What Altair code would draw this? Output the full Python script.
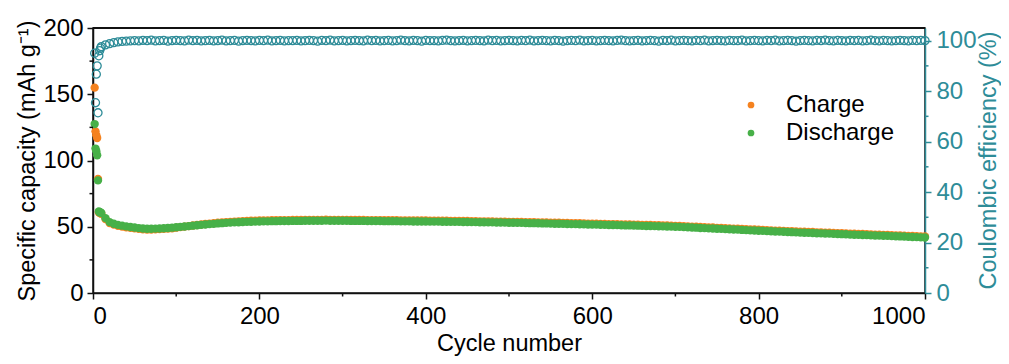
import altair as alt
import pandas as pd

# ---- data ----
early_cycles = [2, 3, 4, 5, 6, 7, 8, 9]
early_charge = [155.0, 122.0, 119.0, 117.0, 86.0, 61.0, 60.5, 60.2]
early_discharge = [127.5, 109.0, 107.0, 104.0, 85.0, 61.5, 61.0, 60.8]
early_ce_cycles = [2, 3, 4, 5, 6, 7, 8, 9]
early_ce = [95.0, 75.4, 86.7, 90.0, 71.4, 94.0, 96.0, 97.0]

cycles = list(range(10, 1001, 5))

charge = [
    59.8, 55.8, 52.8, 51.6, 50.7, 50.1, 49.6, 49.2, 48.8, 48.4, 48.1, 47.9, 47.9, 48.0, 48.2, 48.4, 48.7, 48.9, 49.3,
    49.7, 50.1, 50.5, 50.9, 51.3, 51.7, 52.1, 52.4, 52.7, 53.0, 53.3, 53.5, 53.7, 53.9, 54.1, 54.2, 54.4, 54.5, 54.6, 54.7,
    54.8, 54.8, 54.9, 54.9, 55.0, 55.0, 55.0, 55.1, 55.1, 55.1, 55.2, 55.2, 55.2, 55.2, 55.2, 55.3, 55.2, 55.2, 55.2, 55.2,
    55.2, 55.1, 55.1, 55.1, 55.1, 55.0, 55.0, 55.0, 55.0, 54.9, 54.9, 54.9, 54.9, 54.8, 54.8, 54.8, 54.7, 54.7, 54.7, 54.7,
    54.6, 54.6, 54.6, 54.5, 54.5, 54.4, 54.4, 54.4, 54.3, 54.3, 54.2, 54.2, 54.1, 54.1, 54.0, 54.0, 53.9, 53.9, 53.8, 53.7,
    53.7, 53.6, 53.6, 53.5, 53.4, 53.4, 53.3, 53.2, 53.2, 53.1, 53.0, 53.0, 52.9, 52.8, 52.7, 52.7, 52.6, 52.5, 52.4, 52.3,
    52.3, 52.2, 52.1, 52.0, 52.0, 51.9, 51.8, 51.7, 51.7, 51.6, 51.5, 51.4, 51.3, 51.3, 51.2, 51.1, 51.0, 50.9, 50.8, 50.7,
    50.6, 50.4, 50.3, 50.1, 50.0, 49.8, 49.7, 49.5, 49.4, 49.2, 49.1, 48.9, 48.8, 48.6, 48.5, 48.3, 48.2, 48.0, 47.9, 47.7,
    47.6, 47.4, 47.3, 47.1, 47.0, 46.9, 46.7, 46.6, 46.5, 46.3, 46.2, 46.1, 46.0, 45.8, 45.7, 45.6, 45.5, 45.3, 45.2, 45.1,
    45.0, 44.8, 44.7, 44.6, 44.5, 44.4, 44.2, 44.1, 44.0, 43.9, 43.8, 43.6, 43.5, 43.4, 43.3, 43.1, 43.0, 42.9, 42.7, 42.6,
]

discharge = [
    60.5, 56.5, 53.5, 52.3, 51.4, 50.8, 50.3, 49.8, 49.4, 49.0, 48.7, 48.5, 48.5, 48.6, 48.7, 48.9, 49.1, 49.3, 49.6,
    49.9, 50.2, 50.5, 50.8, 51.1, 51.4, 51.7, 52.0, 52.2, 52.5, 52.7, 52.9, 53.1, 53.3, 53.4, 53.6, 53.7, 53.8, 53.9, 54.0,
    54.1, 54.1, 54.2, 54.2, 54.3, 54.3, 54.3, 54.4, 54.4, 54.4, 54.5, 54.5, 54.5, 54.5, 54.5, 54.6, 54.5, 54.5, 54.5, 54.5,
    54.5, 54.4, 54.4, 54.4, 54.4, 54.3, 54.3, 54.3, 54.3, 54.2, 54.2, 54.2, 54.2, 54.1, 54.1, 54.1, 54.0, 54.0, 54.0, 54.0,
    53.9, 53.9, 53.9, 53.8, 53.8, 53.7, 53.7, 53.7, 53.6, 53.6, 53.5, 53.5, 53.4, 53.4, 53.3, 53.3, 53.2, 53.2, 53.1, 53.0,
    53.0, 52.9, 52.9, 52.8, 52.7, 52.7, 52.6, 52.5, 52.5, 52.4, 52.3, 52.3, 52.2, 52.1, 52.0, 52.0, 51.9, 51.8, 51.7, 51.6,
    51.6, 51.5, 51.4, 51.3, 51.3, 51.2, 51.1, 51.0, 51.0, 50.9, 50.8, 50.7, 50.6, 50.6, 50.5, 50.4, 50.3, 50.2, 50.1, 50.0,
    49.9, 49.7, 49.6, 49.4, 49.3, 49.1, 49.0, 48.8, 48.7, 48.5, 48.4, 48.2, 48.1, 47.9, 47.8, 47.6, 47.5, 47.3, 47.2, 47.0,
    46.9, 46.7, 46.6, 46.4, 46.3, 46.2, 46.0, 45.9, 45.8, 45.6, 45.5, 45.4, 45.3, 45.1, 45.0, 44.9, 44.8, 44.6, 44.5, 44.4,
    44.3, 44.1, 44.0, 43.9, 43.8, 43.7, 43.5, 43.4, 43.3, 43.2, 43.1, 42.9, 42.8, 42.7, 42.6, 42.4, 42.3, 42.2, 42.0, 41.9,
]

ce = [
    97.6, 98.3, 98.8, 99.2, 99.5, 99.7, 99.8, 99.9,
    100.0, 99.9, 100.1, 100.0, 100.2, 99.9, 100.0, 100.1, 99.8, 100.0,
    100.1, 100.0, 99.9, 100.2, 100.0, 100.1, 99.9, 100.0, 100.1, 99.9,
    100.0, 100.2, 99.9, 100.0, 100.1, 99.8, 100.0, 100.1, 100.0, 99.9,
    100.1, 100.0, 100.2, 99.9, 100.0, 100.1, 99.9, 100.0, 100.0, 100.1,
    99.9, 100.0, 100.1, 100.0, 99.8, 100.1, 100.0, 100.2, 99.9, 100.0,
    100.1, 99.9, 100.0, 100.1, 100.0, 99.9, 100.2, 100.0, 100.1, 99.9,
    100.0, 100.1, 99.9, 100.0, 100.2, 100.0, 99.9, 100.1, 100.0, 99.8,
    100.1, 100.0, 100.0, 99.9, 100.1, 100.2, 100.0, 99.9, 100.0, 100.1,
    99.9, 100.0, 100.1, 100.0, 99.9, 100.2, 100.0, 100.1, 99.9, 100.0,
    100.1, 100.0, 99.9, 100.1, 100.0, 100.2, 99.9, 100.0, 100.1, 100.0,
    99.9, 100.1, 100.0, 99.8, 100.0, 100.1, 100.0, 100.2, 99.9, 100.0,
    100.1, 99.9, 100.0, 100.1, 100.0, 99.9, 100.1, 100.2, 100.0, 99.9,
    100.0, 100.1, 99.9, 100.0, 100.1, 100.0, 99.8, 100.1, 100.0, 100.2,
    99.9, 100.0, 100.1, 100.0, 99.9, 100.1, 100.0, 100.2, 99.9, 100.0,
    100.1, 100.0, 99.9, 100.1, 100.0, 100.0, 100.2, 99.9, 100.0, 100.1,
    100.0, 99.9, 100.1, 100.0, 100.2, 99.9, 100.0, 100.1, 100.0, 99.8,
    100.0, 100.1, 100.0, 99.9, 100.1, 100.0, 100.2, 100.0, 99.9, 100.1,
    100.0, 99.9, 100.1, 100.0, 100.1, 99.9, 100.0, 100.2, 100.0, 99.9,
    100.1, 100.0, 99.9, 100.0, 100.1, 100.0, 99.9, 100.1, 100.0, 100.1,
    100.0,
]

x_major = [0, 200, 400, 600, 800, 1000]
x_minor = [100, 300, 500, 700, 900]
y_left_major = [0, 50, 100, 150, 200]
y_left_minor = [25, 75, 125, 175]
y_right_major = [0, 20, 40, 60, 80, 100]
y_right_minor = [10, 30, 50, 70, 90]

ORANGE = "#F5821F"
GREEN = "#47B048"
TEAL = "#2E8C98"
DARK = "#111111"
FONT = "Liberation Sans"

W, H = 832, 265
LBL = 24
TTL = 23.5

cap_df = pd.DataFrame({
    "cycle": early_cycles + cycles + early_cycles + cycles,
    "cap": early_charge + charge + early_discharge + discharge,
    "series": ["Charge"] * (len(early_cycles) + len(cycles)) + ["Discharge"] * (len(early_cycles) + len(cycles)),
})
cap_df["order"] = range(len(cap_df))

ce_df = pd.DataFrame({"cycle": early_ce_cycles + cycles, "ce": early_ce + ce})

xscale = alt.Scale(domain=[0, 1000], nice=False, zero=False)
yl_scale = alt.Scale(domain=[0, 200], nice=False)
yr_scale = alt.Scale(domain=[0, 105], nice=False)

x_axis = alt.Axis(values=x_major, format="d", title="Cycle number", labelFontSize=LBL, titleFontSize=TTL,
                  tickSize=6, tickWidth=1.5, domainWidth=1.5, domainColor=DARK, tickColor=DARK,
                  labelColor="#000", titleColor="#000", labelPadding=5, titlePadding=3,
                  labelFont=FONT, titleFont=FONT, grid=False, titleFontWeight="normal")
yl_axis = alt.Axis(values=y_left_major, title="Specific capacity (mAh g⁻¹)", labelFontSize=LBL,
                   titleFontSize=TTL, tickSize=6, tickWidth=1.5, domainWidth=1.5, domainColor=DARK,
                   tickColor=DARK, labelColor="#000", titleColor="#000", labelPadding=4,
                   titlePadding=3, labelFont=FONT, titleFont=FONT, grid=False,
                   titleFontWeight="normal")
yr_axis = alt.Axis(orient="right", values=y_right_major, title="Coulombic efficiency (%)",
                   labelFontSize=LBL, titleFontSize=TTL, tickSize=6, tickWidth=1.5, domainWidth=1.5,
                   domainColor=TEAL, tickColor=TEAL, labelColor=TEAL, titleColor=TEAL,
                   labelPadding=5, titleAngle=270, titleBaseline="middle", titleAlign="center",
                   titleX=63, titleY=132, labelFont=FONT, titleFont=FONT,
                   grid=False, titleFontWeight="normal")

cap_points = alt.Chart(cap_df).mark_circle(size=70, opacity=1).encode(
    x=alt.X("cycle:Q", scale=xscale, axis=x_axis),
    y=alt.Y("cap:Q", scale=yl_scale, axis=yl_axis),
    color=alt.Color("series:N",
                    scale=alt.Scale(domain=["Charge", "Discharge"], range=[ORANGE, GREEN]),
                    legend=alt.Legend(title=None, orient="none", legendX=646, legendY=65,
                                      labelFontSize=LBL, labelFont=FONT, symbolType="circle",
                                      symbolSize=45, labelOffset=23, rowPadding=4,
                                      symbolStrokeWidth=0, labelColor="#000")),
    order=alt.Order("order:Q"),
)

minor_x = alt.Chart(pd.DataFrame({"v": x_minor})).mark_rule(color=DARK, strokeWidth=1.5).encode(
    x=alt.X("v:Q", scale=xscale, axis=x_axis), y=alt.value(H), y2=alt.value(H + 3.5))
minor_yl = alt.Chart(pd.DataFrame({"v": y_left_minor})).mark_rule(color=DARK, strokeWidth=1.5).encode(
    y=alt.Y("v:Q", scale=yl_scale, axis=yl_axis), x=alt.value(0), x2=alt.value(-3.5))
top_line = alt.Chart(pd.DataFrame({"v": [200]})).mark_rule(color=DARK, strokeWidth=2, opacity=1).encode(
    y=alt.value(0), x=alt.value(0), x2=alt.value(W))

left = alt.layer(cap_points, minor_x, minor_yl, top_line)

ce_points = alt.Chart(ce_df).mark_point(shape="circle", filled=False, size=65, strokeWidth=1.3, color=TEAL,
                                        opacity=1).encode(
    x=alt.X("cycle:Q", scale=xscale, axis=x_axis),
    y=alt.Y("ce:Q", scale=yr_scale, axis=yr_axis),
)
minor_yr = alt.Chart(pd.DataFrame({"v": y_right_minor})).mark_rule(color=TEAL, strokeWidth=1.5).encode(
    y=alt.Y("v:Q", scale=yr_scale, axis=yr_axis), x=alt.value(W), x2=alt.value(W + 3.5))

right = alt.layer(ce_points, minor_yr)

chart = alt.layer(left, right).resolve_scale(y="independent").properties(
    width=W, height=H,
    autosize=alt.AutoSizeParams(type="none"),
    padding={"left": 85, "top": 20, "right": 76, "bottom": 63},
    background="white",
).configure_view(stroke=DARK, strokeWidth=1.5, strokeOpacity=1)

chart.save("out.html", embed_options={"renderer": "svg", "actions": False})
